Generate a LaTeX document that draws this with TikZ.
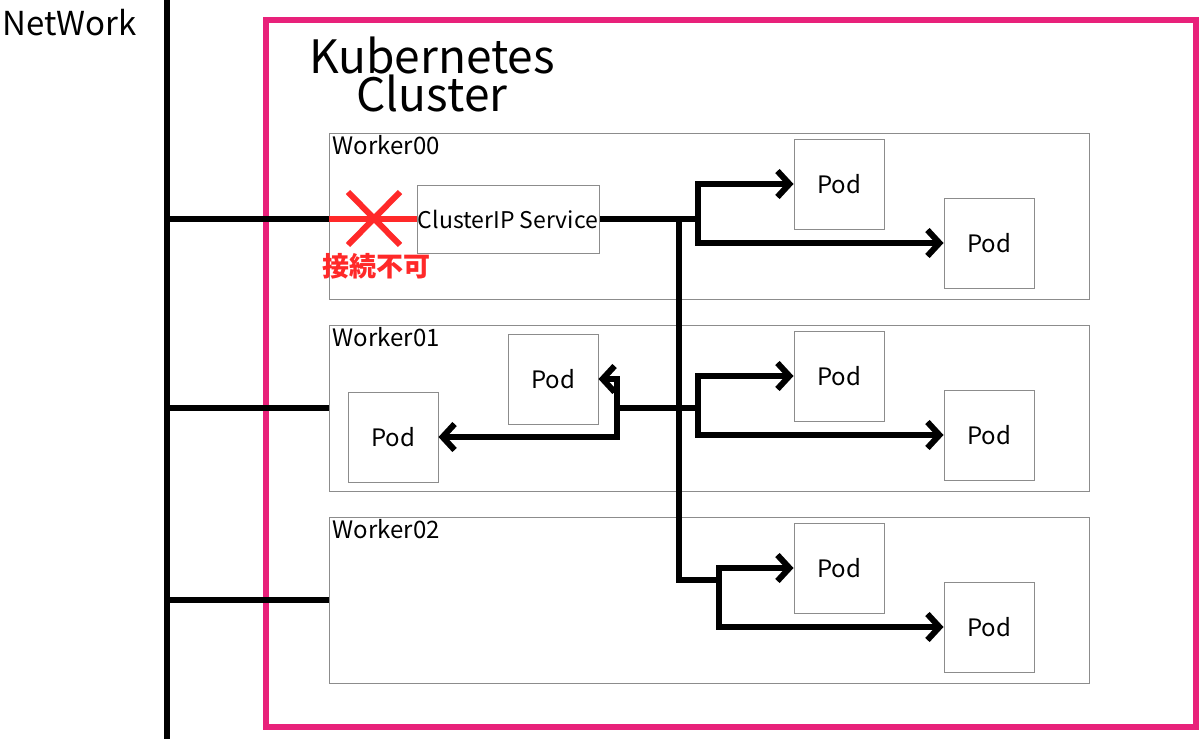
\documentclass[tikz,border=0pt]{standalone}
\usepackage{fontspec}
\setmainfont{Noto Sans CJK JP}
\usetikzlibrary{arrows.meta}
\definecolor{clusterpink}{rgb}{0.91,0.13,0.48}
\definecolor{ngred}{rgb}{1.,0.16,0.16}
\definecolor{boxgray}{rgb}{0.55,0.55,0.55}

\begin{document}
\begin{tikzpicture}[x=1pt,y=-1pt,line join=miter,
  link/.style={line width=6pt},
  arr/.style={link,-{Straight Barb[length=12pt,width=26pt]}},
  podbox/.style={draw=boxgray,line width=1pt,minimum width=90pt,minimum height=90pt,inner sep=0pt,font=\fontsize{24}{28}\selectfont},
  workerbox/.style={draw=boxgray,line width=1pt,minimum width=760pt,minimum height=166pt,inner sep=0pt},
  workerlabel/.style={anchor=base west,inner sep=0pt,font=\fontsize{24}{28}\selectfont},
  ngline/.style={draw=ngred,line width=6pt}]
\useasboundingbox (0,0) rectangle (1200,739);
\draw [line width=6pt,color=clusterpink] (266,20) rectangle (1196,727);
\coordinate (nettop) at (167,0);
\coordinate (netbot) at (167,739);
\draw [line width=6pt] (nettop) -- (netbot);
\node[anchor=base west,inner sep=0pt,font=\fontsize{33}{38}\selectfont] (netlabel) at (2,35) {NetWork};
\node[align=center,inner sep=0pt,font=\fontsize{46}{38}\selectfont] (k8slabel) at (432,74) {Kubernetes\\Cluster};

\node[workerbox] (w0) at (709,216) {};
\node[workerbox] (w1) at (709,408) {};
\node[workerbox] (w2) at (709,600) {};
\node[workerlabel] (w0label) at ([xshift=4pt,yshift=-22pt]w0.north west) {Worker00};
\node[workerlabel] (w1label) at ([xshift=4pt,yshift=-22pt]w1.north west) {Worker01};
\node[workerlabel] (w2label) at ([xshift=4pt,yshift=-22pt]w2.north west) {Worker02};

\node[draw=boxgray,line width=1pt,minimum width=182pt,minimum height=68pt,inner sep=0pt,font=\fontsize{23}{26}\selectfont] (svc) at (508,219) {ClusterIP Service};
\node[podbox] (p00) at (839,184) {Pod};
\node[podbox] (p01) at (989,243) {Pod};
\node[podbox] (p10) at (553,379) {Pod};
\node[podbox] (p11) at (393,437) {Pod};
\node[podbox] (p12) at (839,376) {Pod};
\node[podbox] (p13) at (989,435) {Pod};
\node[podbox] (p20) at (839,568) {Pod};
\node[podbox] (p21) at (989,627) {Pod};

\coordinate (n0) at (167,219);
\coordinate (n1) at (167,408);
\coordinate (n2) at (167,600);
\draw [link] (n0) -- (n0 -| w0.west);
\draw [link] (n1) -- (n1 -| w1.west);
\draw [link] (n2) -- (n2 -| w2.west);
\draw [ngline] (n0 -| w0.west) -- (svc.west);
\coordinate (xa) at (348,192);
\coordinate (xb) at (400,245);
\coordinate (xc) at (400,192);
\coordinate (xd) at (348,245);
\draw [ngline] (xa) -- (xb);
\draw [ngline] (xc) -- (xd);
\node[text=ngred,inner sep=0pt,font=\fontsize{27}{30}\selectfont\bfseries] (nglabel) at (376,266) {接続不可};

\coordinate (b0) at (698,219);
\coordinate (t0) at (679,219);
\coordinate (b1) at (698,408);
\coordinate (c1) at (617,408);
\coordinate (b2) at (719,580);
\draw [link] (svc.east) -- (b0);
\draw [arr] (b0) |- (p00.west);
\draw [arr] (b0) |- (p01.west);
\draw [link] (t0) |- (b2);
\draw [link] (c1) -- (b1);
\draw [arr] (b1) |- (p12.west);
\draw [arr] (b1) |- (p13.west);
\draw [arr] (c1) |- (p10.east);
\draw [arr] (c1) |- (p11.east);
\draw [arr] (b2) |- (p20.west);
\draw [arr] (b2) |- (p21.west);
\end{tikzpicture}
\end{document}
